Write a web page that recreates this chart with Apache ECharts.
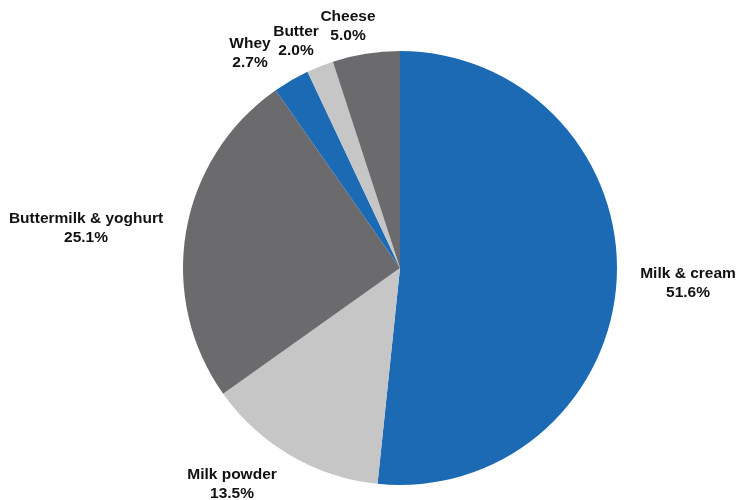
<!DOCTYPE html>
<html>
<head>
<meta charset="utf-8">
<script src="https://cdn.jsdelivr.net/npm/echarts@6/dist/echarts.min.js"></script>
<style>
  html, body { margin: 0; padding: 0; background: #fff; }
  #chart { width: 739px; height: 500px; }
</style>
</head>
<body>
<div id="chart"></div>
<script>
// Dairy product shares, clockwise from 12 o'clock
const categories = ['Milk & cream', 'Milk powder', 'Buttermilk & yoghurt', 'Whey', 'Butter', 'Cheese'];
const shares = [51.6, 13.5, 25.1, 2.7, 2.0, 5.0];

const BLUE = '#1c6ab4';
const LIGHT = '#c6c6c6';
const DARK = '#6b6b6d';
const sliceColors = [BLUE, LIGHT, DARK, BLUE, LIGHT, DARK];

// Where each two-line label sits (centre of the text block)
const labelSpots = [
  [688, 283],
  [232, 484],
  [86, 228],
  [250, 53],
  [296, 41],
  [348, 26]
];

const chart = echarts.init(document.getElementById('chart'), null, { renderer: 'canvas' });

chart.setOption({
  animation: false,
  series: [{
    type: 'pie',
    center: [400, 268],
    radius: [0, 217],
    startAngle: 90,
    clockwise: true,
    avoidLabelOverlap: false,
    itemStyle: { borderWidth: 0 },
    emphasis: { disabled: true },
    label: {
      show: true,
      position: 'outside',
      formatter: p => p.name + '\n' + p.value.toFixed(1) + '%',
      color: '#111',
      fontFamily: '"Liberation Sans", Arial, sans-serif',
      fontWeight: 'bold',
      fontSize: 15.5,
      lineHeight: 19,
      align: 'center'
    },
    labelLine: { show: false },
    labelLayout: p => ({
      x: labelSpots[p.dataIndex][0],
      y: labelSpots[p.dataIndex][1],
      align: 'center',
      verticalAlign: 'middle'
    }),
    data: categories.map((name, i) => ({
      name,
      value: shares[i],
      itemStyle: { color: sliceColors[i] }
    }))
  }]
});
</script>
</body>
</html>
